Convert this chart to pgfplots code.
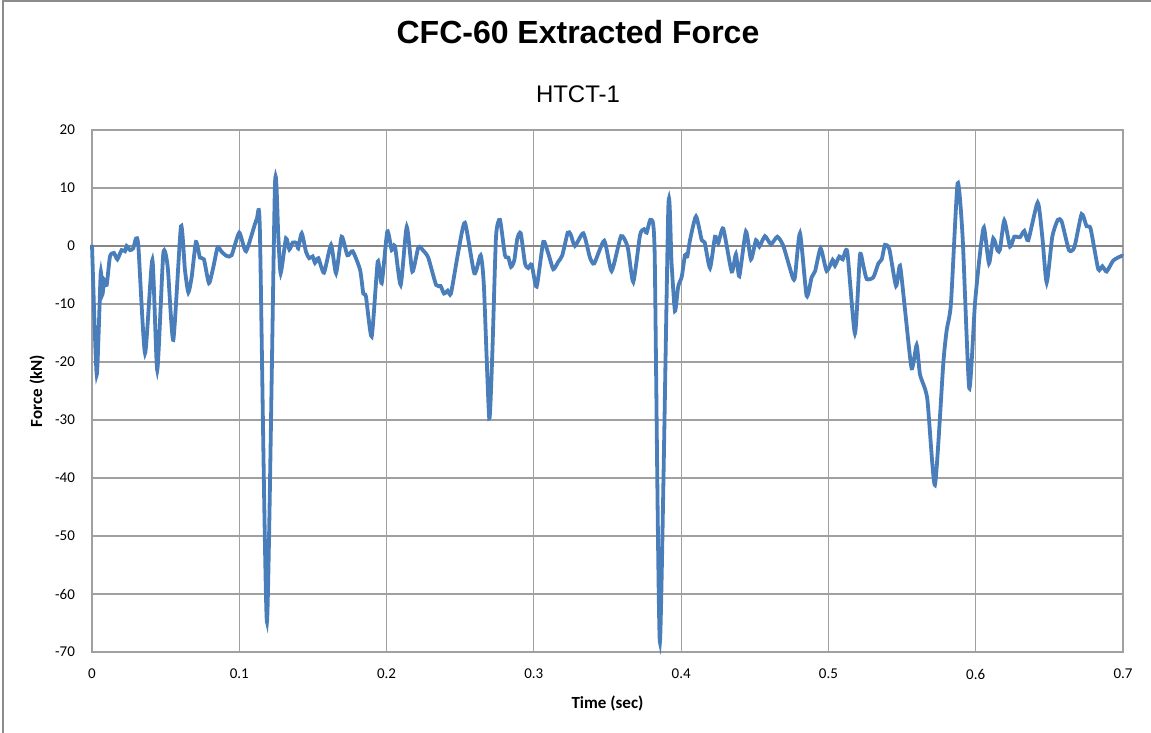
\documentclass[border=0pt]{standalone}
\usepackage{pgfplots}
\pgfplotsset{compat=1.18}
\usepackage{fontspec}
\setmainfont{Carlito}
\newfontfamily\arialfont{Liberation Sans}

\definecolor{linecol}{HTML}{4A7EBB}
\definecolor{gridcol}{HTML}{A0A0A0}
\definecolor{zerocol}{HTML}{868686}
\definecolor{framecol}{HTML}{8C8C8C}

\begin{document}
\begin{tikzpicture}
\begin{axis}[
    scale only axis,
    width=515.5pt, height=261pt,
    xmin=0, xmax=0.7,
    ymin=-70, ymax=20,
    xtick={0,0.1,0.2,0.3,0.4,0.5,0.6,0.7},
    ytick={-70,-60,-50,-40,-30,-20,-10,0,10,20},
    /pgf/number format/assume math mode=true,
    xticklabel style={/pgf/number format/fixed, /pgf/number format/precision=1, yshift=-5pt},
    yticklabel style={xshift=-5pt},
    tick label style={font=\fontsize{7.5}{9}\selectfont},
    major tick length=0pt,
    grid=major,
    grid style={draw=gridcol, line width=0.6pt},
    axis line style={draw=gridcol, line width=0.6pt},
    extra y ticks={0},
    extra y tick labels={},
    extra y tick style={grid style={draw=zerocol, line width=0.9pt}},
    xlabel={\textbf{Time (sec)}},
    ylabel={\textbf{Force (kN)}},
    label style={font=\fontsize{8.5}{10}\selectfont},
    xlabel style={at={(axis description cs:0.5,-0.0977)}, anchor=center},
    ylabel style={at={(axis description cs:-0.0533,0.5)}, anchor=center, rotate=0},
    clip=false,
]
\addplot[color=linecol, line width=1.9pt, smooth, tension=0.35] coordinates {
(0,0.2)(0.0032,-22.2)(0.0059,-4.7)(0.0070,-8.4)(0.0084,-5.9)(0.0100,-6.7)
(0.0122,-1.8)(0.0149,-1.2)(0.0172,-2.3)(0.0201,-0.7)(0.0224,-0.9)(0.0235,0)
(0.0258,-0.7)(0.0280,-0.4)(0.0299,1.3)(0.0315,-0.1)(0.0360,-18.5)(0.0410,-2.4)
(0.0443,-21.4)(0.0484,-1.3)(0.0514,-3.6)(0.0552,-16.2)(0.0604,3.4)(0.0631,-4.1)
(0.0654,-8.0)(0.0677,-5.3)(0.0706,0.7)(0.0733,-2.0)(0.0760,-2.3)(0.0794,-6.4)
(0.0824,-3.6)(0.0853,-0.2)(0.0880,-1.0)(0.0914,-1.7)(0.0948,-1.6)(0.1000,2.3)
(0.1046,-0.9)(0.1118,4.6)(0.1140,2.5)(0.1188,-64.8)(0.1242,10.3)(0.1265,1.6)
(0.1281,-4.7)(0.1317,1.3)(0.1340,-0.6)(0.1363,0.6)(0.1390,0.5)(0.1400,-0.4)
(0.1424,2.2)(0.1453,-1.0)(0.1475,-2.1)(0.1498,-1.8)(0.1514,-2.9)(0.1537,-2.1)
(0.1575,-4.6)(0.1623,0.2)(0.1657,-4.7)(0.1695,1.6)(0.1734,-1.6)(0.1770,-0.9)
(0.1820,-4.1)(0.1842,-8.2)(0.1860,-8.7)(0.1899,-15.6)(0.1940,-2.7)(0.1967,-6.4)
(0.2005,2.5)(0.2035,-0.7)(0.2057,0)(0.2096,-6.7)(0.2137,3.3)(0.2175,-4.4)
(0.2216,-0.2)(0.2249,-0.8)(0.2283,-2.0)(0.2336,-6.7)(0.2367,-6.9)(0.2390,-8.2)
(0.2415,-7.7)(0.2437,-8.2)(0.2487,-1.0)(0.2532,4.0)(0.2596,-4.7)(0.2639,-1.6)
(0.2661,-7.0)(0.2697,-29.7)(0.2718,-18.5)(0.2743,1.6)(0.2770,4.5)(0.2804,-1.6)
(0.2827,-2.0)(0.2845,-3.6)(0.2867,-2.5)(0.2888,1.3)(0.2911,2.2)(0.2940,-3.0)
(0.2962,-3.8)(0.2985,-3.2)(0.3019,-7.0)(0.3064,0.7)(0.3098,-1.3)(0.3132,-4.0)
(0.3166,-2.7)(0.3193,-1.6)(0.3230,2.3)(0.3250,2.0)(0.3279,0)(0.3336,2.2)
(0.3381,-2.0)(0.3410,-3.0)(0.3478,0.9)(0.3528,-4.3)(0.3592,1.7)(0.3637,-0.2)
(0.3675,-6.2)(0.3721,1.9)(0.3748,2.9)(0.3766,2.3)(0.3793,4.5)(0.3820,-1.0)
(0.3856,-68.3)(0.3913,6.6)(0.3935,-3.0)(0.3958,-11.2)(0.3980,-7.0)(0.4004,-5.3)
(0.4026,-1.6)(0.4042,-1.8)(0.4060,1.0)(0.4101,5.1)(0.4140,1.0)(0.4160,0.6)
(0.4196,-3.8)(0.4230,1.6)(0.4252,0.5)(0.4286,3.0)(0.4343,-4.4)(0.4372,-1.4)
(0.4395,-5.2)(0.4440,2.5)(0.4474,-2.3)(0.4508,1.0)(0.4531,-0.1)(0.4569,1.7)
(0.4610,0.3)(0.4653,1.6)(0.4694,0)(0.4757,-5.4)(0.4773,-5.3)(0.4807,2.2)
(0.4852,-8.6)(0.4886,-5.4)(0.4910,-4.3)(0.4947,-0.4)(0.4988,-4.3)(0.5029,-2.4)
(0.5044,-3.4)(0.5074,-1.8)(0.5097,-2.3)(0.5128,-1.0)(0.5180,-15.1)(0.5214,-1.6)
(0.5237,-3.4)(0.5260,-5.7)(0.5305,-5.4)(0.5339,-3.0)(0.5362,-2.3)(0.5384,0.2)
(0.5414,-0.6)(0.5459,-6.9)(0.5486,-3.4)(0.5520,-11.0)(0.5565,-21.1)(0.5599,-17.1)
(0.5622,-22.2)(0.5671,-26.3)(0.5723,-41.2)(0.5780,-20.2)(0.5803,-14.5)(0.5832,-9.9)
(0.5877,10.8)(0.5911,1.6)(0.5956,-24.5)(0.5995,-9.9)(0.6029,-1.3)(0.6056,3.2)
(0.6090,-3.0)(0.6119,1.3)(0.6149,-0.8)(0.6165,-0.6)(0.6194,4.4)(0.6233,-0.1)
(0.6262,1.6)(0.6300,1.5)(0.6330,2.6)(0.6357,1.0)(0.6421,7.5)(0.6452,1.6)
(0.6482,-6.3)(0.6520,1.6)(0.6557,4.5)(0.6584,4.2)(0.6633,-0.7)(0.6670,-0.2)
(0.6719,5.5)(0.6753,3.4)(0.6780,3.0)(0.6832,-4.0)(0.6860,-3.5)(0.6889,-4.4)
(0.6934,-2.5)(0.6991,-1.7)(0.7000,-1.8)
};
\end{axis}
% titles
\node[anchor=base, font=\arialfont\bfseries\fontsize{16}{19}\selectfont] at (243pt,304pt) {CFC-60 Extracted Force};
\node[anchor=base, font=\arialfont\fontsize{12}{14}\selectfont] at (243pt,274.5pt) {HTCT-1};
% chart area frame
\draw[framecol, line width=0.6pt] (-44.5pt,-40.5pt) -- (-44.5pt,325.5pt) -- (529.5pt,325.5pt);
\pgfresetboundingbox
\path[use as bounding box] (-46pt,-40.5pt) rectangle (529.5pt,326pt);
\end{tikzpicture}
\end{document}
